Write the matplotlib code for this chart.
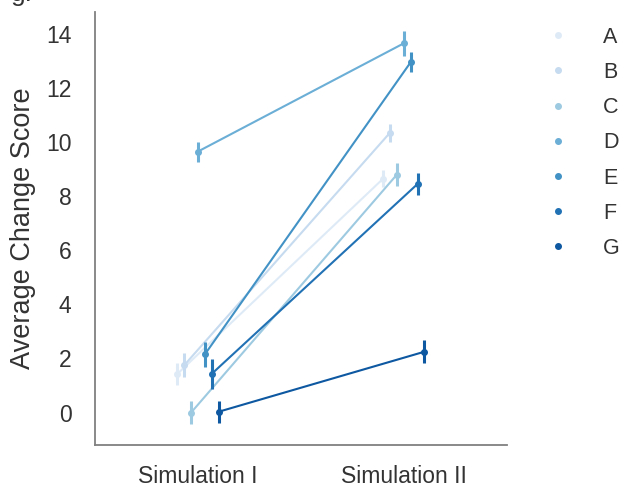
import matplotlib
matplotlib.use("Agg")
import matplotlib.pyplot as plt
from matplotlib.lines import Line2D
import numpy as np

plt.rcParams['font.family'] = ['Liberation Sans', 'DejaVu Sans']

conditions = ["Simulation I", "Simulation II"]
groups = ["A", "B", "C", "D", "E", "F", "G"]
# mean change score per group, per condition
sim1 = [1.43, 1.75, 0.0, 9.65, 2.15, 1.43, 0.03]
sim2 = [8.65, 10.35, 8.8, 13.65, 12.95, 8.45, 2.25]
# half length of the error bars
err1 = [0.42, 0.45, 0.43, 0.37, 0.46, 0.55, 0.40]
err2 = [0.30, 0.33, 0.43, 0.46, 0.37, 0.40, 0.43]
colors = ['#deebf7', '#c6dbef', '#9ecae1', '#6baed6', '#4292c6', '#2171b5', '#0d58a1']

fig = plt.figure(figsize=(6.21, 4.88), dpi=100)
ax = fig.add_axes([0.153, 0.088, 0.663, 0.887])

offsets = np.linspace(-0.1, 0.1, len(groups))
xpos = np.arange(len(conditions))
for i, g in enumerate(groups):
    x = xpos + offsets[i]
    y = [sim1[i], sim2[i]]
    e = [err1[i], err2[i]]
    ax.errorbar(x, y, yerr=e, color=colors[i], lw=1.5, elinewidth=2.2,
                capsize=0, marker='o', ms=4, zorder=2 + i)

ax.set_xlim(-0.5, 1.5)
ax.set_ylim(-1.2, 14.8)
ax.set_xticks(xpos)
ax.set_xticklabels(conditions)
ax.set_yticks(np.arange(0, 15, 2))
ax.tick_params(axis='both', length=0, labelsize=16.5, labelcolor='#333333')
ax.tick_params(axis='y', pad=17)
ax.tick_params(axis='x', pad=14)
ax.set_ylabel("Average Change Score", fontsize=19.5, color='#333333', labelpad=7)

for s in ['top', 'right']:
    ax.spines[s].set_visible(False)
for s in ['left', 'bottom']:
    ax.spines[s].set_color('#808080')
    ax.spines[s].set_linewidth(1.3)

handles = [Line2D([], [], color=c, marker='o', ls='none', ms=4) for c in colors]
fig.legend(handles, groups, loc='upper left', bbox_to_anchor=(0.832, 0.985),
           frameon=False, fontsize=15.5, labelspacing=0.66, handletextpad=1.1,
           labelcolor='#333333')

fig.text(0.017, 0.997, "g.", fontsize=19, color='#333333', va='baseline')

fig.savefig("out.png", dpi=100)
